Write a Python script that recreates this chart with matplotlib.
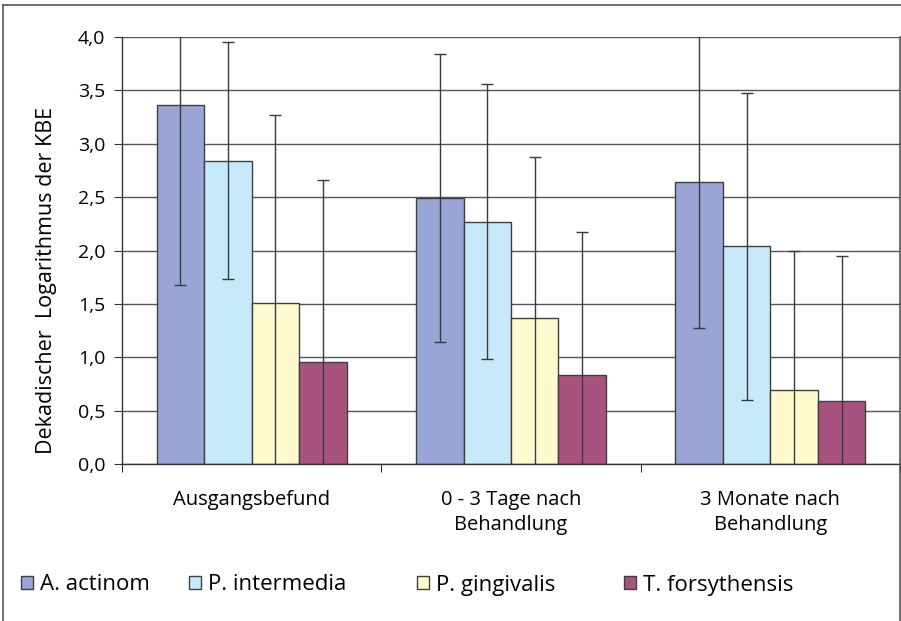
import matplotlib
matplotlib.use("Agg")
import matplotlib.pyplot as plt
from matplotlib.patches import Patch
from matplotlib.lines import Line2D
import numpy as np

plt.rcParams['font.family'] = ['Open Sans', 'DejaVu Sans']

categories = ["Ausgangsbefund", "0 - 3 Tage nach\nBehandlung", "3 Monate nach\nBehandlung"]
series = ["A. actinom", "P. intermedia", "P. gingivalis", "T. forsythensis"]
values = {
    "A. actinom":      [3.36, 2.49, 2.64],
    "P. intermedia":   [2.84, 2.27, 2.04],
    "P. gingivalis":   [1.51, 1.37, 0.69],
    "T. forsythensis": [0.96, 0.83, 0.59],
}
errors = {
    "A. actinom":      [1.68, 1.35, 1.37],
    "P. intermedia":   [1.11, 1.29, 1.44],
    "P. gingivalis":   [1.76, 1.51, 1.31],
    "T. forsythensis": [1.70, 1.34, 1.36],
}
colors = ["#99A5D6", "#C6EAF9", "#FFFACD", "#A8527F"]
yticks = [0.0, 0.5, 1.0, 1.5, 2.0, 2.5, 3.0, 3.5, 4.0]
ytick_labels = ["0,0", "0,5", "1,0", "1,5", "2,0", "2,5", "3,0", "3,5", "4,0"]

W, H = 901, 621
fig = plt.figure(figsize=(W/100, H/100), dpi=100)
ax = fig.add_axes([122/W, 1-464/H, (900-122)/W, (464-37)/H])

x = np.arange(len(categories))
w = 0.183
for i, s in enumerate(series):
    pos = x + (i - 1.5) * w
    ax.bar(pos, values[s], width=w, color=colors[i], edgecolor="#3f3f3f",
           linewidth=1.0, zorder=2)
    ax.errorbar(pos, values[s], yerr=errors[s], fmt="none", ecolor="#3a3a3a",
                elinewidth=1.0, capsize=4.3, capthick=1.0, zorder=3)

ax.set_xlim(-0.5, 2.5)
ax.set_ylim(0, 4.0)
ax.set_yticks(yticks)
ax.set_yticklabels(ytick_labels, fontsize=14)
ax.yaxis.grid(True, color="#555555", linewidth=1.0, zorder=0)
ax.set_axisbelow(True)

ax.set_xticks([-0.5, 0.5, 1.5, 2.5])
ax.set_xticklabels([])
ax.tick_params(axis="x", direction="out", length=6, color="#333333")
ax.tick_params(axis="y", direction="out", length=6, color="#333333", pad=6)
for j, c in enumerate(categories):
    ax.text(j, -0.24, c, ha="center", va="top", fontsize=14.5,
            transform=ax.transData, linespacing=1.35)

for sp in ["top", "right"]:
    ax.spines[sp].set_visible(False)
for sp in ["left", "bottom"]:
    ax.spines[sp].set_color("#333333")
    ax.spines[sp].set_linewidth(1.0)

ax.set_ylabel("Dekadischer  Logarithmus der KBE", fontsize=15.5)
ax.yaxis.set_label_coords(57/W, 1-280/H, transform=fig.transFigure)

square_x = [21, 189, 417, 624]
for i, s in enumerate(series):
    h = Patch(facecolor=colors[i], edgecolor="#3f3f3f", linewidth=1.0)
    fig.legend([h], [s], loc="center left", bbox_to_anchor=(square_x[i]/W, 1-585/H),
               frameon=False, fontsize=16, handlelength=0.55, handleheight=0.55,
               handletextpad=0.3, borderpad=0, borderaxespad=0)

# outer frame
fig.add_artist(Line2D([3/W, 3/W], [0, 1-5/H], transform=fig.transFigure, color="#555555", lw=1.2))
fig.add_artist(Line2D([3/W, 1], [1-5/H, 1-5/H], transform=fig.transFigure, color="#555555", lw=1.2))
fig.add_artist(Line2D([900/W, 900/W], [0, 1-37/H], transform=fig.transFigure, color="#555555", lw=1.2))

fig.savefig("out.png", dpi=100)
